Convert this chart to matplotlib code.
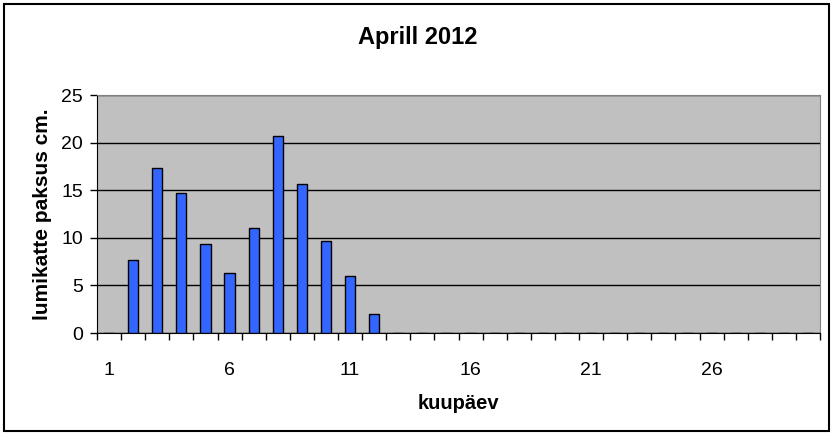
import matplotlib.pyplot as plt
import numpy as np
from matplotlib.patches import Rectangle

# snow depth in April 2012, by day of month
days = list(range(1, 31))
depth = [0, 7.7, 17.3, 14.7, 9.3, 6.3, 11.0, 20.7, 15.6, 9.7, 6.0, 2.0] + [0] * 18
label_days = [1, 6, 11, 16, 21, 26]

plt.rcParams['font.family'] = ['Liberation Sans', 'DejaVu Sans']

fig = plt.figure(figsize=(8.35, 4.37), dpi=100)
ax = fig.add_axes([97 / 835, 104 / 437, 723 / 835, 238 / 437])

ax.set_facecolor('#c0c0c0')
x = np.arange(len(days))
ax.bar(x, depth, width=0.42, color='#3366ff', edgecolor='black', linewidth=1, zorder=3)

ax.set_xlim(-0.5, len(days) - 0.5)
ax.set_ylim(0, 25)
ax.set_yticks(range(0, 26, 5))
ax.yaxis.grid(True, color='black', linewidth=1, zorder=1)
ax.set_axisbelow(True)

# ticks sit on the category borders, labels in the middle of every 5th category
ax.set_xticks(np.arange(len(days) + 1) - 0.5)
ax.set_xticklabels([])
ax.set_xticks([d - 1 for d in label_days], minor=True)
ax.set_xticklabels([str(d) for d in label_days], minor=True)
ax.tick_params(axis='x', which='major', direction='out', length=5, width=1, color='black')
ax.tick_params(axis='x', which='minor', length=0, pad=21, labelsize=14)
ax.tick_params(axis='y', direction='out', length=5, width=1, labelsize=14, pad=5)

for s in ['top', 'right']:
    ax.spines[s].set_color('#808080')
ax.spines['left'].set_color('black')
ax.spines['bottom'].set_color('black')

ax.set_xlabel('kuupäev', fontsize=14.5, fontweight='bold', labelpad=11)
ax.set_ylabel('lumikatte paksus cm.', fontsize=15, fontweight='bold', labelpad=7)
fig.text(0.5, 0.915, 'Aprill 2012', ha='center', va='center', fontsize=17, fontweight='bold')

# chart border
fig.patches.append(Rectangle((4 / 835, 6 / 437), 825 / 835, 427 / 437, transform=fig.transFigure,
                             fill=False, edgecolor='black', linewidth=1.5))

fig.savefig('out.png', dpi=100)
